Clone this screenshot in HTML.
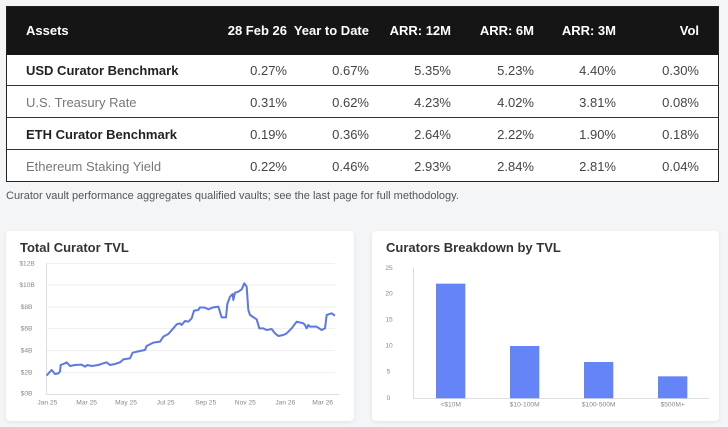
<!DOCTYPE html>
<html><head><style>
body{margin:0;width:728px;height:427px;background:#f4f5f7;font-family:"Liberation Sans",sans-serif;position:relative;overflow:hidden}
.t{position:absolute;left:6px;top:6px;width:713px;height:176px;background:#fff;border:1px solid #222;box-sizing:border-box}
.h{position:absolute;left:0;top:0;width:100%;height:48px;background:#151515}
.r{position:absolute;left:0;width:100%;height:32px;border-top:1px solid #333;box-sizing:border-box}
.c{position:absolute;font-size:13px;white-space:nowrap;line-height:14px}
.card{position:absolute;background:#fff;border-radius:4px;box-shadow:0 1px 4px rgba(0,0,0,.08)}
.ax{position:absolute;font-size:7px;color:#888;white-space:nowrap}
</style></head><body>
<div class="t">
<div class="h"></div>
</div>
<div id="tx"></div>
<div style="position:absolute;left:6px;top:190px;font-size:11px;color:#555">Curator vault performance aggregates qualified vaults; see the last page for full methodology.</div>

<div class="card" style="left:6px;top:231px;width:348px;height:190px"></div>
<div class="card" style="left:372px;top:231px;width:347px;height:190px"></div>
<div style="position:absolute;left:20px;top:240px;font-size:13px;color:#333;font-weight:bold">Total Curator TVL</div>
<div style="position:absolute;left:386px;top:240px;font-size:13px;color:#333;font-weight:bold">Curators Breakdown by TVL</div>

<svg style="position:absolute;left:0;top:230px" width="364" height="197" viewBox="0 0 1092 591">
<g stroke="#e6e6e6" stroke-width="2">
<line x1="140" y1="100" x2="1005" y2="100"/><line x1="140" y1="165" x2="1005" y2="165"/><line x1="140" y1="231" x2="1005" y2="231"/><line x1="140" y1="296" x2="1005" y2="296"/><line x1="140" y1="361" x2="1005" y2="361"/><line x1="140" y1="427" x2="1005" y2="427"/>
</g>
<line x1="140" y1="100" x2="140" y2="493" stroke="#ccc" stroke-width="2"/>
<line x1="140" y1="493" x2="1018" y2="493" stroke="#ccc" stroke-width="2"/>
<g font-size="20" fill="#888" font-family="Liberation Sans,sans-serif">
<text x="58" y="106">$12B</text><text x="58" y="171">$10B</text><text x="62" y="237">$8B</text><text x="62" y="302">$6B</text><text x="62" y="367">$4B</text><text x="62" y="433">$2B</text><text x="62" y="497">$0B</text>
<g text-anchor="middle"><text x="142" y="524">Jan 25</text><text x="260" y="524">Mar 25</text><text x="378" y="524">May 25</text><text x="497" y="524">Jul 25</text><text x="617" y="524">Sep 25</text><text x="736" y="524">Nov 25</text><text x="856" y="524">Jan 26</text><text x="968" y="524">Mar 26</text></g>
</g>
<polyline fill="none" stroke="#5b78e6" stroke-width="6" stroke-linejoin="round" points="140,437 150,425 155,420 165,432 175,430 180,425 182,405 195,400 200,397 210,408 225,405 245,404 255,410 262,405 275,408 295,405 310,400 320,397 330,405 345,402 360,397 370,388 390,385 398,368 420,363 435,360 440,348 460,338 480,335 490,320 505,312 520,295 530,283 540,280 545,285 555,273 565,275 575,265 582,242 595,240 600,232 615,233 625,238 640,232 655,230 665,262 678,262 682,222 690,200 698,192 700,210 705,188 715,185 725,178 733,160 740,170 745,240 750,255 770,268 778,295 790,295 800,300 815,297 825,310 835,318 850,315 860,310 875,295 890,275 910,280 915,285 920,295 925,285 930,290 950,290 965,300 975,295 980,255 995,250 1005,257"/>
</svg>

<svg style="position:absolute;left:364px;top:230px" width="364" height="197" viewBox="0 0 1092 591">
<line x1="148" y1="113" x2="148" y2="505" stroke="#ccc" stroke-width="2"/>
<line x1="148" y1="505" x2="1035" y2="505" stroke="#ccc" stroke-width="2"/>
<g fill="#6484f8">
<rect x="216" y="161" width="88" height="344"/><rect x="438" y="348" width="88" height="157"/><rect x="660" y="396" width="88" height="109"/><rect x="882" y="439" width="88" height="66"/>
</g>
<g font-size="20" fill="#888" font-family="Liberation Sans,sans-serif">
<text x="64" y="120">25</text><text x="64" y="197">20</text><text x="64" y="275">15</text><text x="64" y="353">10</text><text x="68" y="431">5</text><text x="68" y="510">0</text>
<g text-anchor="middle"><text x="260" y="530">&lt;$10M</text><text x="482" y="530">$10-100M</text><text x="704" y="530">$100-500M</text><text x="926" y="530">$500M+</text></g>
</g>
</svg>

<div style="position:absolute;left:0;top:0;width:728px;height:190px">
<div class="r" style="left:6px;width:713px;top:85px"></div>
<div class="r" style="left:6px;width:713px;top:117px"></div>
<div class="r" style="left:6px;width:713px;top:149px"></div>
<div class="c" style="left:26px;top:24px;color:#fff;font-weight:bold">Assets</div>
<div class="c" style="right:441px;top:24px;color:#fff;font-weight:bold">28 Feb 26</div>
<div class="c" style="right:359px;top:24px;color:#fff;font-weight:bold">Year to Date</div>
<div class="c" style="right:277px;top:24px;color:#fff;font-weight:bold">ARR: 12M</div>
<div class="c" style="right:194px;top:24px;color:#fff;font-weight:bold">ARR: 6M</div>
<div class="c" style="right:112px;top:24px;color:#fff;font-weight:bold">ARR: 3M</div>
<div class="c" style="right:29px;top:24px;color:#fff;font-weight:bold">Vol</div>

<div class="c" style="left:26px;top:64px;color:#222;font-weight:bold">USD Curator Benchmark</div>
<div class="c" style="left:26px;top:96px;color:#777">U.S. Treasury Rate</div>
<div class="c" style="left:26px;top:128px;color:#222;font-weight:bold">ETH Curator Benchmark</div>
<div class="c" style="left:26px;top:160px;color:#777">Ethereum Staking Yield</div>

<div class="c" style="right:441px;top:64px;color:#444">0.27%</div><div class="c" style="right:359px;top:64px;color:#444">0.67%</div><div class="c" style="right:277px;top:64px;color:#444">5.35%</div><div class="c" style="right:194px;top:64px;color:#444">5.23%</div><div class="c" style="right:112px;top:64px;color:#444">4.40%</div><div class="c" style="right:29px;top:64px;color:#444">0.30%</div>
<div class="c" style="right:441px;top:96px;color:#444">0.31%</div><div class="c" style="right:359px;top:96px;color:#444">0.62%</div><div class="c" style="right:277px;top:96px;color:#444">4.23%</div><div class="c" style="right:194px;top:96px;color:#444">4.02%</div><div class="c" style="right:112px;top:96px;color:#444">3.81%</div><div class="c" style="right:29px;top:96px;color:#444">0.08%</div>
<div class="c" style="right:441px;top:128px;color:#444">0.19%</div><div class="c" style="right:359px;top:128px;color:#444">0.36%</div><div class="c" style="right:277px;top:128px;color:#444">2.64%</div><div class="c" style="right:194px;top:128px;color:#444">2.22%</div><div class="c" style="right:112px;top:128px;color:#444">1.90%</div><div class="c" style="right:29px;top:128px;color:#444">0.18%</div>
<div class="c" style="right:441px;top:160px;color:#444">0.22%</div><div class="c" style="right:359px;top:160px;color:#444">0.46%</div><div class="c" style="right:277px;top:160px;color:#444">2.93%</div><div class="c" style="right:194px;top:160px;color:#444">2.84%</div><div class="c" style="right:112px;top:160px;color:#444">2.81%</div><div class="c" style="right:29px;top:160px;color:#444">0.04%</div>
</div>
</body></html>
